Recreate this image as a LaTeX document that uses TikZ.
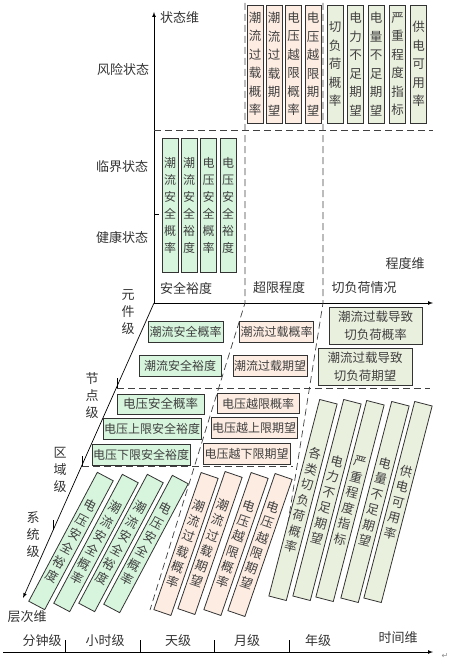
\documentclass[tikz,border=0pt]{standalone}
\usepackage{fontspec}
\setmainfont{Noto Sans CJK SC}
\newfontfamily\symfont{DejaVu Sans}
\definecolor{safegreen}{RGB}{214,245,220}
\definecolor{overpink}{RGB}{253,236,226}
\definecolor{cutgray}{RGB}{234,240,222}

\begin{document}
\begin{tikzpicture}[x=1pt, y=-1pt,
    metric/.style={rectangle, draw=black!80, fill=#1, line width=0.8pt, inner sep=1pt, text=black!75, align=center, font=\fontsize{12}{17}\selectfont},
    tallbox/.style={metric=#1, minimum width=16pt},
    slant/.style 2 args={metric=#1, minimum width=18pt, rotate=#2, font=\fontsize{12.5}{16}\selectfont},
    lbl/.style={font=\fontsize{13}{17}\selectfont, text=black!80, align=center, inner sep=0pt},
    divider/.style={draw=black!75, line width=0.7pt, dash pattern=on 7pt off 4pt},
    ax/.style={-latex, line width=0.7pt}
]
    \useasboundingbox (0,0) rectangle (451,666);

    % 坐标轴
    \coordinate (o) at (154,303);
    \coordinate (ztop) at (154,12);
    \coordinate (cdend) at (433,303);
    \coordinate (ccend) at (23,598);
    \draw[ax] (o) -- (ztop);
    \draw[ax] (o) -- (cdend);
    \draw[ax] (o) -- (ccend);
    \draw[line width=0.7pt] (154,214) -- (159,214);
    \foreach \x/\y in {117/388, 82/466, 53/530}
        \draw[line width=0.7pt] (\x,\y) -- (\x,\y-10);

    % 虚线分区
    \draw[divider] (154,130) -- (433,130);
    \draw[divider] (245,3) -- (245,303) -- (150,610);
    \draw[divider] (323,3) -- (323,303) -- (276,598);
    \draw[divider] (117,388) -- (430,388);
    \draw[divider] (82,466) -- (293,466);

    % 状态维标签
    \node[lbl, anchor=west] (zt) at (160,18) {状态维};
    \node[lbl] (fx) at (123,70) {风险状态};
    \node[lbl] (lj) at (122,167) {临界状态};
    \node[lbl] (jk) at (122,237) {健康状态};

    % 风险状态: 超限程度
    \foreach \x/\t [count=\i] in {255/潮\\流\\过\\载\\概\\率, 274/潮\\流\\过\\载\\期\\望, 293.5/电\\压\\越\\限\\概\\率, 313/电\\压\\越\\限\\期\\望}
        \node[tallbox=overpink, minimum height=118pt, font=\fontsize{12.5}{18.5}\selectfont] (r\i) at (\x,64) {\t};
    % 风险状态: 切负荷情况
    \foreach \x/\t [count=\i] in {335/切\\负\\荷\\概\\率, 355.5/电\\力\\不\\足\\期\\望, 376/电\\量\\不\\足\\期\\望, 397.5/严\\重\\程\\度\\指\\标, 418.5/供\\电\\可\\用\\率}
        \node[tallbox=cutgray, minimum height=118pt, font=\fontsize{12.5}{18.5}\selectfont] (q\i) at (\x,64) {\t};
    % 临界/健康状态: 安全裕度
    \foreach \x/\t [count=\i] in {170/潮\\流\\安\\全\\概\\率, 189/潮\\流\\安\\全\\裕\\度, 208.5/电\\压\\安\\全\\概\\率, 228/电\\压\\安\\全\\裕\\度}
        \node[tallbox=safegreen, minimum height=134pt] (s\i) at (\x,205) {\t};

    % 程度维标签
    \node[lbl] (aq) at (186,288) {安全裕度};
    \node[lbl] (cx) at (279,288) {超限程度};
    \node[lbl] (qf) at (364,288) {切负荷情况};
    \node[lbl] (cd) at (405,264) {程度维};

    % 元件级
    \node[metric=safegreen, minimum width=75pt, minimum height=21pt] (e1) at (185.5,332) {潮流安全概率};
    \node[metric=safegreen, minimum width=82pt, minimum height=21pt] (e2) at (180,365.5) {潮流安全裕度};
    \node[metric=overpink, minimum width=73pt, minimum height=21pt] (e3) at (276.5,332) {潮流过载概率};
    \node[metric=overpink, minimum width=74pt, minimum height=21pt] (e4) at (270,365.5) {潮流过载期望};
    \node[metric=cutgray, minimum width=93pt, minimum height=37pt, font=\fontsize{12.5}{18}\selectfont] (e5) at (375.5,325.5) {潮流过载导致\\切负荷概率};
    \node[metric=cutgray, minimum width=94pt, minimum height=37pt, font=\fontsize{12.5}{18}\selectfont] (e6) at (365,366.5) {潮流过载导致\\切负荷期望};

    % 节点级
    \node[metric=safegreen, minimum width=87pt, minimum height=20pt, font=\fontsize{12.5}{17}\selectfont] (n1) at (160.5,404) {电压安全概率};
    \node[metric=safegreen, minimum width=98pt, minimum height=21pt] (n2) at (152,429) {电压上限安全裕度};
    \node[metric=safegreen, minimum width=96pt, minimum height=21pt] (n3) at (141,454.5) {电压下限安全裕度};
    \node[metric=overpink, minimum width=82pt, minimum height=20pt] (n4) at (258,403.5) {电压越限概率};
    \node[metric=overpink, minimum width=86pt, minimum height=21pt] (n5) at (254,428) {电压越上限期望};
    \node[metric=overpink, minimum width=87pt, minimum height=21pt] (n6) at (246.5,454) {电压越下限期望};

    % 区域级/系统级
    \foreach \x/\y/\t [count=\i] in {71/541/电\\压\\安\\全\\裕\\度, 96/543/潮\\流\\安\\全\\概\\率, 121/543/潮\\流\\安\\全\\裕\\度, 146/544/电\\压\\安\\全\\概\\率}
        \node[slant={safegreen}{-28}, minimum height=146pt] (g\i) at (\x,\y) {\t};
    \foreach \x/\y/\t [count=\i] in {186/544/潮\\流\\过\\载\\概\\率, 210/543/潮\\流\\过\\载\\期\\望, 236/544/电\\压\\越\\限\\概\\率, 260/545/电\\压\\越\\限\\期\\望}
        \node[slant={overpink}{-19}, minimum height=145pt] (p\i) at (\x,\y) {\t};
    \foreach \x/\y/\t [count=\i] in {303/500/各\\类\\切\\负\\荷\\概\\率, 327/500/电\\力\\不\\足\\期\\望, 350/501/严\\重\\程\\度\\指\\标, 375/502/电\\量\\不\\足\\期\\望, 398/502/供\\电\\可\\用\\率}
        \node[slant={cutgray}{-14.5}, minimum height=203pt] (c\i) at (\x,\y) {\t};

    % 层次维标签
    \node[lbl] (yj) at (128,312) {元\\件\\级};
    \node[lbl] (jd) at (92,396) {节\\点\\级};
    \node[lbl] (qy) at (60,470) {区\\域\\级};
    \node[lbl] (xt) at (33,535) {系\\统\\级};
    \node[lbl] (cc) at (27,617) {层次维};

    % 时间维
    \coordinate (tl) at (3,652);
    \coordinate (tr) at (433,652);
    \draw[ax] (tl) -- (tr);
    \foreach \x in {65,140,214,289}
        \draw[line width=0.7pt] (\x,640) -- (\x,652);
    \foreach \x/\t [count=\i] in {42/分钟级, 105/小时级, 178/天级, 247/月级, 318/年级}
        \node[lbl] (t\i) at (\x,641) {\t};
    \node[lbl] (sj) at (398,638) {时间维};
    \node[font=\symfont\fontsize{8}{8}\selectfont, text=black!45, inner sep=0pt] (ret) at (445,656) {↵};
\end{tikzpicture}
\end{document}
